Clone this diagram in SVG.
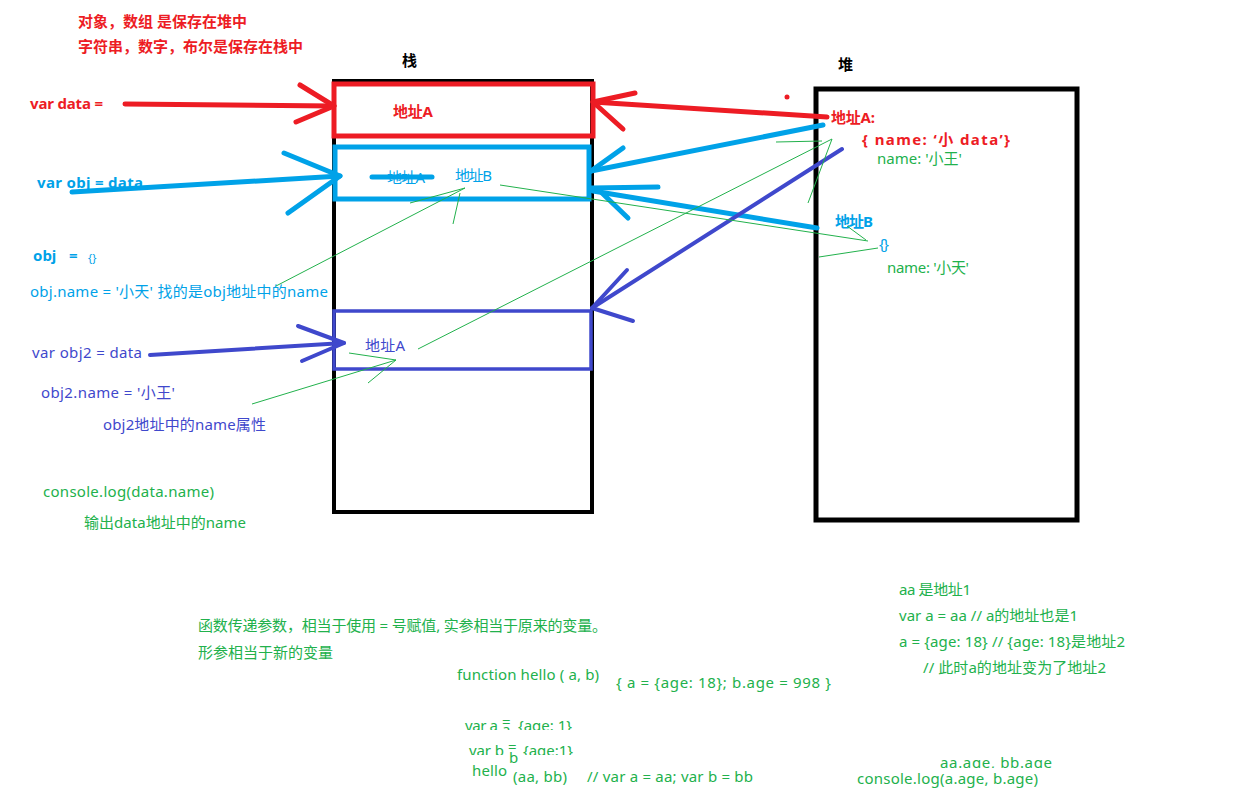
<svg xmlns="http://www.w3.org/2000/svg" width="1245" height="800" viewBox="0 0 1245 800">
<style>
text{font-family:"Noto Sans","Noto Sans CJK SC",sans-serif;font-size:15px;dominant-baseline:central}
.b{font-weight:bold}
.red{fill:#ED1C24}.blue{fill:#00A2E8}.pur{fill:#3F48CC}.grn{fill:#22B14C}.blk{fill:#000}
.box{fill:none}
.thick{fill:none;stroke-linecap:round;stroke-linejoin:round}
.r{stroke:#ED1C24;stroke-width:5}
.c{stroke:#00A2E8;stroke-width:5}
.p{stroke:#3F48CC;stroke-width:4}
.g{stroke:#22B14C;stroke-width:1;fill:none}
</style>
<defs>
<clipPath id="clipA"><rect x="440" y="700" width="200" height="30"/></clipPath>
<clipPath id="clipB"><rect x="440" y="735" width="200" height="20"/></clipPath>
<clipPath id="clipC"><rect x="900" y="745" width="200" height="23"/></clipPath>
</defs>
<rect width="1245" height="800" fill="#fff"/>

<g id="notes-top">
<text x="78" y="21" class="b red" textLength="169">对象，数组 是保存在堆中</text>
<text x="78" y="46" class="b red" textLength="225">字符串，数字，布尔是保存在栈中</text>
</g>

<g id="stack">
<text x="402" y="60" class="b blk">栈</text>
<rect x="334" y="81" width="258" height="431" class="box" stroke="#000" stroke-width="4"/>
</g>

<g id="heap">
<text x="838" y="64" class="b blk">堆</text>
<rect x="816" y="89" width="261" height="431" class="box" stroke="#000" stroke-width="5"/>
</g>

<g id="stack-slot-red">
<rect x="334" y="84" width="259" height="52" class="box" stroke="#ED1C24" stroke-width="5"/>
<text x="393" y="111" class="b red" textLength="40">地址A</text>
</g>

<g id="stack-slot-blue">
<rect x="335" y="147" width="254" height="52" class="box" stroke="#00A2E8" stroke-width="5"/>
<text x="387" y="177" class="blue" textLength="38">地址A</text>
<text x="455" y="175" class="blue" textLength="37">地址B</text>
</g>

<g id="stack-slot-purple">
<rect x="334" y="311" width="257" height="58" class="box" stroke="#3F48CC" stroke-width="3.5"/>
<text x="365" y="345" class="pur" textLength="40">地址A</text>
</g>

<g id="heap-content">
<text x="831" y="117" class="b red" textLength="44">地址A:</text>
<text x="862" y="139" class="b red" textLength="148">{ name:  ‘小 data’}</text>
<text x="877" y="158" class="grn" textLength="85">name: '小王'</text>
<text x="835" y="221" class="b blue" textLength="38">地址B</text>
<text x="879" y="243" class="blue" textLength="10">{}</text>
<text x="887" y="267" class="grn" textLength="82">name: '小天'</text>
</g>

<g id="left-labels">
<text x="30" y="103" class="b red" textLength="73">var data =</text>
<text x="37" y="182" class="b blue" textLength="106">var obj = data</text>
<text x="33" y="255" class="b blue">obj</text>
<text x="69" y="255" class="b blue">=</text>
<text x="88" y="257" class="blue" style="font-size:11px">{}</text>
<text x="30" y="291" class="blue" textLength="298">obj.name = '小天' 找的是obj地址中的name</text>
<text x="32" y="352" class="pur" textLength="110">var obj2 = data</text>
<text x="41" y="392" class="pur" textLength="134">obj2.name = '小王'</text>
<text x="103" y="424" class="pur" textLength="163">obj2地址中的name属性</text>
<text x="43" y="491" class="grn" textLength="171">console.log(data.name)</text>
<text x="84" y="522" class="grn" textLength="162">输出data地址中的name</text>
</g>

<g id="bottom-notes">
<text x="198" y="625" class="grn" textLength="409">函数传递参数，相当于使用 = 号赋值, 实参相当于原来的变量。</text>
<text x="198" y="652" class="grn" textLength="135">形参相当于新的变量</text>
<text x="457" y="674" class="grn" textLength="142">function hello ( a, b)</text>
<text x="616" y="682" class="grn" textLength="215">{  a = {age: 18}; b.age = 998   }</text>
<g clip-path="url(#clipA)">
<text x="465" y="725" class="grn" textLength="33">var a</text>
<text x="502" y="729" class="grn">a</text>
<text x="502" y="721" class="grn">=</text>
<text x="518" y="725" class="grn" textLength="54">{age: 1}</text>
</g>
<g clip-path="url(#clipB)">
<text x="469" y="750" class="grn" textLength="35">var b</text>
<text x="508" y="746" class="grn">=</text>
<text x="518" y="750" class="grn" textLength="50" dx="5">{age:1}</text>
</g>
<text x="509" y="757" class="grn">b</text>
<text x="472" y="770" class="grn" textLength="35">hello</text>
<text x="513" y="776" class="grn" textLength="54">(aa, bb)</text>
<text x="587" y="776" class="grn" textLength="166">// var a = aa; var b = bb</text>
<text x="899" y="589" class="grn" textLength="72">aa 是地址1</text>
<text x="899" y="615" class="grn" textLength="179">var a = aa // a的地址也是1</text>
<text x="899" y="641" class="grn" textLength="226">a = {age: 18} // {age: 18}是地址2</text>
<text x="923" y="667" class="grn" textLength="183">// 此时a的地址变为了地址2</text>
<g clip-path="url(#clipC)">
<text x="940" y="762" class="grn" textLength="112">aa.age,   bb.age</text>
</g>
<text x="857" y="778" class="grn" textLength="181">console.log(a.age, b.age)</text>
</g>

<g id="connectors">
<!-- red -->
<path class="thick r" d="M125,104 L334,106"/>
<path class="thick r" d="M300,85 L334,106 L296,122"/>
<path class="thick r" d="M827,117 L593,102"/>
<path class="thick r" d="M635,93 L593,102 L623,129"/>
<circle cx="787" cy="97" r="2.5" fill="#ED1C24"/>
<!-- blue -->
<path class="thick c" d="M72,192 L340,176"/>
<path class="thick c" d="M284,153 L340,176 L288,213"/>
<path class="thick c" d="M372,177 L432,177"/>
<path class="thick c" d="M823,125 L591,171"/>
<path class="thick c" d="M623,148 L591,171"/>
<path class="thick c" d="M658,187 L591,188"/>
<path class="thick c" d="M817,228 L593,191"/>
<path class="thick c" d="M628,218 L602,193"/>
<!-- purple -->
<path class="thick p" d="M150,355 L344,343"/>
<path class="thick p" d="M298,326 L344,343 L302,361"/>
<path class="thick p" d="M842,149 L592,308"/>
<path class="thick p" d="M627,270 L592,308 L633,321"/>
<!-- green thin -->
<path class="g" d="M276,286 L465,188"/>
<path class="g" d="M410,203 L465,188"/>
<path class="g" d="M453,224 L460,193"/>
<path class="g" d="M500,185 L868,241"/>
<path class="g" d="M847,226 L866,240"/>
<path class="g" d="M878,248 L819,257"/>
<path class="g" d="M776,142 L822,141"/>
<path class="g" d="M832,139 L808,203"/>
<path class="g" d="M832,139 L418,349"/>
<path class="g" d="M349,353 L396,360"/>
<path class="g" d="M252,404 L396,360"/>
<path class="g" d="M368,383 L396,360"/>
</g>
</svg>
